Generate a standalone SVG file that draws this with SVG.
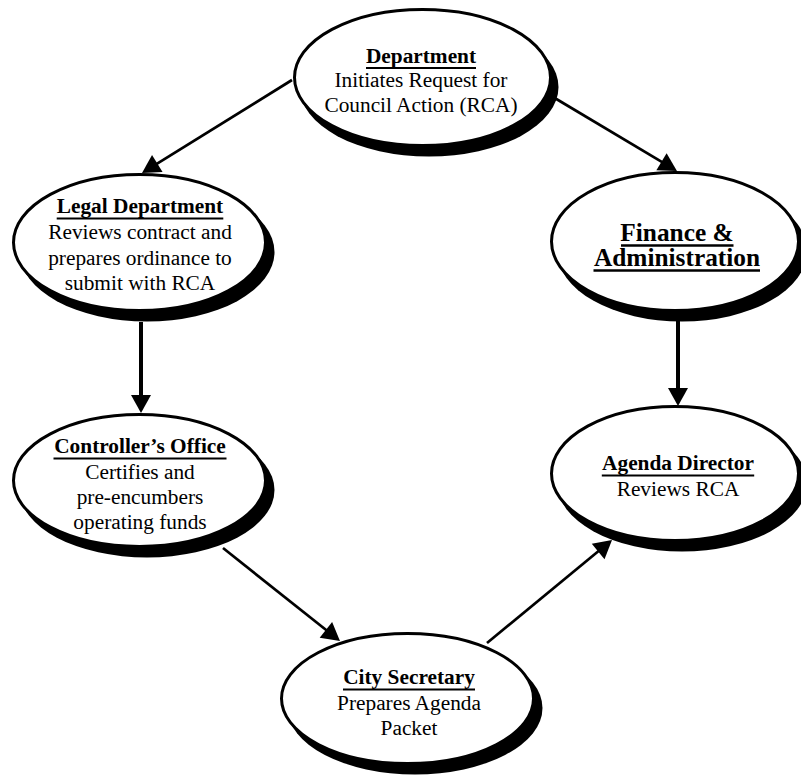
<svg xmlns="http://www.w3.org/2000/svg" width="801" height="778" viewBox="0 0 801 778">
  <defs>
    <style>
      .shadow { fill: #000; }
      .oval { fill: #fff; stroke: #000; stroke-width: 3; }
      .t { font-family: "Liberation Serif", "Times New Roman", serif; font-size: 21.33px; fill: #000; text-anchor: middle; }
      .h { font-weight: bold; }
      .big { font-size: 25.33px; }
      .ul { stroke: #000; stroke-width: 2; }
      .ulbig { stroke: #000; stroke-width: 2.5; }
      .flow { stroke: #000; stroke-width: 2.7; fill: none; marker-end: url(#head); }
      .flow-thick { stroke: #000; stroke-width: 4; fill: none; marker-end: url(#head); }
    </style>
    <marker id="head" markerUnits="userSpaceOnUse" markerWidth="18" markerHeight="20" refX="12" refY="10" orient="auto" overflow="visible">
      <path d="M0,0 L18,10 L0,20 z" fill="#000"/>
    </marker>
  </defs>

  <rect width="801" height="778" fill="#fff"/>

  <!-- Department -->
  <g id="department">
    <ellipse class="shadow" cx="429" cy="87" rx="129.5" ry="69.5"/>
    <ellipse class="oval" cx="422.5" cy="77.5" rx="128" ry="68"/>
    <text class="t h" x="421" y="62.5">Department</text>
    <line class="ul" x1="366" y1="68" x2="476" y2="68"/>
    <text class="t" x="421" y="87">Initiates Request for</text>
    <text class="t" x="421" y="111.5">Council Action (RCA)</text>
  </g>

  <!-- Legal Department -->
  <g id="legal">
    <ellipse class="shadow" cx="147" cy="252" rx="127.5" ry="69.5"/>
    <ellipse class="oval" cx="139.5" cy="242.5" rx="126" ry="68"/>
    <text class="t h" x="140" y="213">Legal Department</text>
    <line class="ul" x1="56.7" y1="218.5" x2="223.3" y2="218.5"/>
    <text class="t" x="140" y="239">Reviews contract and</text>
    <text class="t" x="140" y="265">prepares ordinance to</text>
    <text class="t" x="140" y="290">submit with RCA</text>
  </g>

  <!-- Finance & Administration -->
  <g id="finance">
    <ellipse class="shadow" cx="682" cy="251" rx="125" ry="70.5"/>
    <ellipse class="oval" cx="675" cy="241.5" rx="123.5" ry="69"/>
    <text class="t h big" x="677" y="241">Finance &amp;</text>
    <line class="ulbig" x1="621" y1="245.5" x2="733.5" y2="245.5"/>
    <text class="t h big" x="677" y="266">Administration</text>
    <line class="ulbig" x1="593.5" y1="270.5" x2="760" y2="270.5"/>
  </g>

  <!-- Controller's Office -->
  <g id="controller">
    <ellipse class="shadow" cx="147" cy="490" rx="127.5" ry="67.5"/>
    <ellipse class="oval" cx="139.5" cy="480.5" rx="126" ry="66"/>
    <text class="t h" x="140" y="453">Controller’s Office</text>
    <line class="ul" x1="53.5" y1="458.5" x2="226.5" y2="458.5"/>
    <text class="t" x="140" y="479">Certifies and</text>
    <text class="t" x="140" y="504">pre-encumbers</text>
    <text class="t" x="140" y="529">operating funds</text>
  </g>

  <!-- Agenda Director -->
  <g id="agenda">
    <ellipse class="shadow" cx="682" cy="483" rx="125" ry="68.5"/>
    <ellipse class="oval" cx="675" cy="473.5" rx="123.5" ry="67"/>
    <text class="t h" x="678" y="470">Agenda Director</text>
    <line class="ul" x1="601.8" y1="475.5" x2="754.2" y2="475.5"/>
    <text class="t" x="678" y="496">Reviews RCA</text>
  </g>

  <!-- City Secretary -->
  <g id="city-secretary">
    <ellipse class="shadow" cx="415" cy="708" rx="127.5" ry="66.5"/>
    <ellipse class="oval" cx="407.5" cy="698.5" rx="126" ry="65"/>
    <text class="t h" x="409" y="684">City Secretary</text>
    <line class="ul" x1="343" y1="689.5" x2="475" y2="689.5"/>
    <text class="t" x="409" y="710">Prepares Agenda</text>
    <text class="t" x="409" y="735">Packet</text>
  </g>

  <!-- Connectors -->
  <g id="connectors">
    <line class="flow" x1="292" y1="80" x2="147.1" y2="169.8"/>
    <line class="flow" x1="553" y1="97" x2="671.8" y2="167.9"/>
    <line class="flow-thick" x1="141" y1="322" x2="141" y2="407"/>
    <line class="flow-thick" x1="678" y1="320" x2="678" y2="400"/>
    <line class="flow" x1="223" y1="548" x2="335.3" y2="637.3"/>
    <line class="flow" x1="487" y1="643" x2="607.4" y2="543.8"/>
  </g>
</svg>
